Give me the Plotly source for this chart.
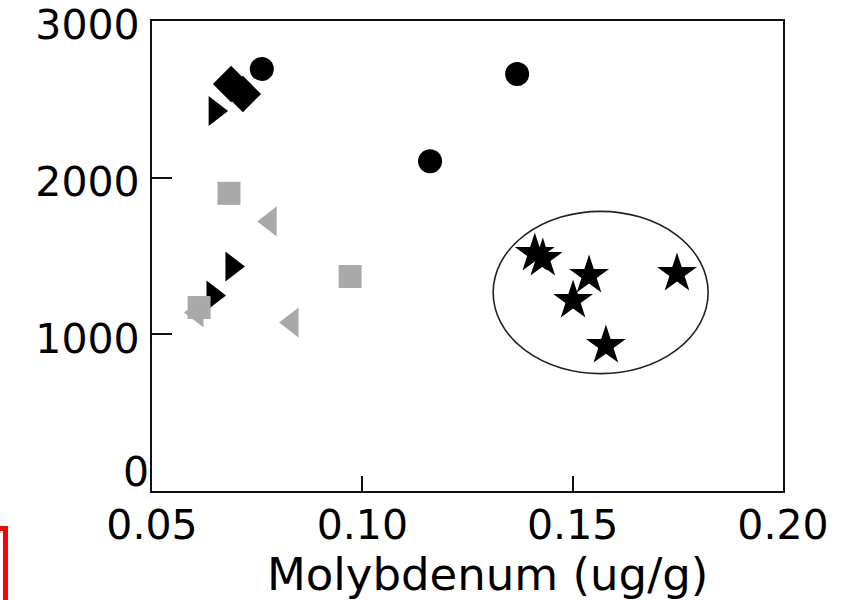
import plotly.graph_objects as go

# ---- data ----
circle_x = [0.0761, 0.1368, 0.1161]
circle_y = [2694, 2662, 2105]

diamond_x = [0.0688, 0.0716]
diamond_y = [2598, 2534]

tri_right_x = [0.0650, 0.0690, 0.0645]
tri_right_y = [2425, 1433, 1248]

square_x = [0.0683, 0.0971, 0.0612]
square_y = [1900, 1369, 1171]

tri_left_x = [0.0781, 0.0833, 0.0607]
tri_left_y = [1721, 1075, 1139]

star_x = [0.1410, 0.1429, 0.1539, 0.1501, 0.1579, 0.1748]
star_y = [1516, 1484, 1376, 1216, 928, 1388]

x_ticks = [0.05, 0.10, 0.15, 0.20]
x_ticktext = ["0.05", "0.10", "0.15", "0.20"]
y_ticks_main = [1000, 2000, 3000]
y_ticktext_main = ["1000", "2000", "3000"]
y_ticks_zero = [0]
y_ticktext_zero = ["0"]

x_title = "Molybdenum (ug/g)"

# cluster ellipse bounds (data units)
ell_x0, ell_x1 = 0.1311, 0.1822
ell_y0, ell_y1 = 749, 1785

GRAY = "#a9a9a9"
BLACK = "#000000"

fig = go.Figure()

def add(xs, ys, symbol, color, size):
    fig.add_trace(go.Scatter(
        x=xs, y=ys, mode="markers",
        marker=dict(symbol=symbol, color=color, size=size, line=dict(width=0)),
        showlegend=False, hoverinfo="skip", cliponaxis=False,
    ))

add(tri_left_x, tri_left_y, "triangle-left", GRAY, 26)
add(tri_right_x, tri_right_y, "triangle-right", BLACK, 26)
add(square_x, square_y, "square", GRAY, 23)
add(circle_x, circle_y, "circle", BLACK, 24)
add(diamond_x, diamond_y, "diamond", BLACK, 28)
add(star_x, star_y, "star", BLACK, 30)

# invisible carrier so the overlaid axis (label "0") is rendered
fig.add_trace(go.Scatter(
    x=[x_ticks[0]], y=[y_ticks_zero[0]], yaxis="y2", mode="markers",
    marker=dict(size=1, opacity=0), showlegend=False, hoverinfo="skip",
))

fig.add_shape(type="circle", xref="x", yref="y",
              x0=ell_x0, x1=ell_x1, y0=ell_y0, y1=ell_y1,
              line=dict(color="#222222", width=1.6), layer="below")

# red frame fragment at lower-left corner of the image
fig.add_shape(type="rect", xref="paper", yref="paper",
              x0=-0.5, x1=-0.2322, y0=-0.5, y1=-0.0798,
              line=dict(color="#ff0000", width=5))

font_family = "DejaVu Sans, Liberation Sans, Arial, sans-serif"
tick_font = dict(size=41, family=font_family, color="#000000")

# x-axis title (slightly right of centre, as in the reference)
fig.add_annotation(
    text=x_title, xref="paper", yref="paper", x=0.531, y=-0.177,
    xanchor="center", yanchor="middle", showarrow=False,
    font=dict(size=45, family=font_family, color="#000000"),
)

fig.update_layout(
    width=864, height=600,
    margin=dict(l=152, r=81, t=21, b=109, autoexpand=False),
    paper_bgcolor="white", plot_bgcolor="white",
    font=dict(family=font_family, color="#000000"),
    xaxis=dict(
        range=[0.05, 0.20], tickvals=x_ticks, ticktext=x_ticktext,
        showline=True, mirror=True, linecolor="#111111", linewidth=2.2,
        ticks="inside", ticklen=15, tickwidth=2, tickcolor="#111111",
        showgrid=False, zeroline=False, automargin=False,
        tickfont=tick_font, ticklabeloverflow="allow",
        ticklabelstandoff=-3,
    ),
    yaxis=dict(
        range=[0, 3000], tickvals=y_ticks_main, ticktext=y_ticktext_main,
        showline=True, mirror=True, linecolor="#111111", linewidth=2.2,
        ticks="inside", ticklen=20, tickwidth=2, tickcolor="#111111",
        showgrid=False, zeroline=False, automargin=False,
        tickfont=tick_font, ticklabeloverflow="allow",
        ticklabelstandoff=2, ticklabelshift=4,
    ),
    yaxis2=dict(
        overlaying="y", side="left", range=[0, 3000],
        tickvals=y_ticks_zero, ticktext=y_ticktext_zero,
        showline=False, ticks="", showgrid=False, zeroline=False,
        automargin=False, tickfont=tick_font, ticklabeloverflow="allow",
        ticklabelstandoff=2, ticklabelshift=-19,
    ),
)

fig.write_html("out.html", config={"displayModeBar": False},
               post_script="document.body.style.margin='0';")
